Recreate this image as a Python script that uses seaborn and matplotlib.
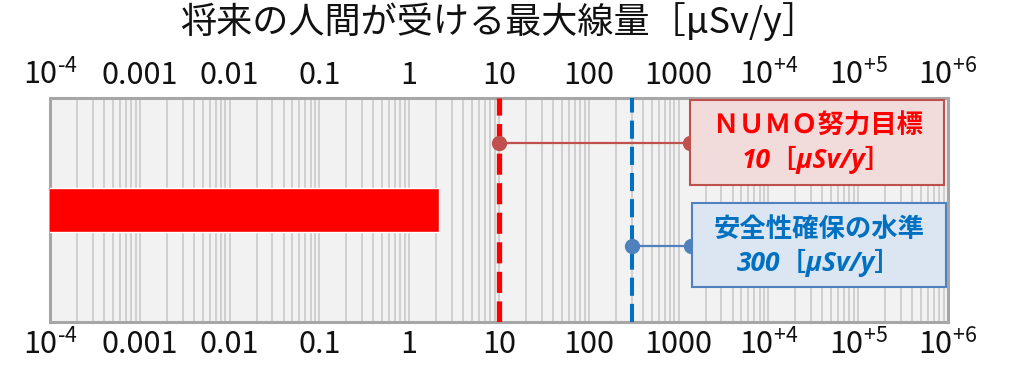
import numpy as np
import pandas as pd
import matplotlib
matplotlib.use("Agg")
import matplotlib.pyplot as plt
import matplotlib.ticker as mticker
from matplotlib.patches import Rectangle
import seaborn as sns

# ---- data ----
categories = [""]
dose_values = [2.15]                     # bar: max dose received by future humans
tick_values = [1e-4, 1e-3, 1e-2, 1e-1, 1, 10, 100, 1000, 1e4, 1e5, 1e6]
tick_labels = ["10$^{\\text{-}4}$", "0.001", "0.01", "0.1", "1", "10", "100", "1000",
               "10$^{+4}$", "10$^{+5}$", "10$^{+6}$"]
threshold_values = [10, 300]
threshold_titles = ["ＮＵＭＯ努力目標", "安全性確保の水準"]
threshold_units = ["10［μSv/y］", "300［μSv/y］"]
connector_end = [1340, 1370]
title = "将来の人間が受ける最大線量［μSv/y］"

sns.set_theme(style="white")
plt.rcParams["font.family"] = ["Noto Sans CJK JP", "DejaVu Sans"]
plt.rcParams["mathtext.fontset"] = "custom"
plt.rcParams["mathtext.rm"] = "Noto Sans CJK JP"
plt.rcParams["mathtext.it"] = "Noto Sans CJK JP"

fig = plt.figure(figsize=(10.22, 3.71), dpi=100)
ax = fig.add_axes([50/1022, 49/371, 898/1022, 224/371])
ax.set_facecolor("#f2f2f2")

df = pd.DataFrame({"cat": categories, "dose": dose_values})
ax.set_xscale("log")
sns.barplot(data=df, x="dose", y="cat", orient="h", color="#ff0000",
            saturation=1, width=0.2, ax=ax, zorder=3)
ax.set_xlim(1e-4, 1e6)
ax.set_ylim(0.5, -0.5)

# grid
ax.xaxis.set_major_locator(mticker.FixedLocator(tick_values))
ax.xaxis.set_major_formatter(mticker.FixedFormatter(tick_labels))
ax.xaxis.set_minor_locator(mticker.LogLocator(base=10, subs=np.arange(2, 10), numticks=100))
ax.xaxis.set_minor_formatter(mticker.NullFormatter())
ax.grid(True, which="both", axis="x", color="#c6c6c6", linewidth=1.1, zorder=0)
ax.set_axisbelow(True)
ax.tick_params(axis="x", which="both", length=0, top=True, labeltop=True,
               labelsize=22, pad=5, colors="#111111")
ax.set_yticks([])
ax.set_xlabel("")
ax.set_ylabel("")
for s in ax.spines.values():
    s.set_visible(True)
    s.set_color("#a6a6a6")
    s.set_linewidth(2.2)

trans = ax.get_xaxis_transform()
line_colors = ["#ff0000", "#0070c0"]
line_widths = [3.8, 2.9]
dash_styles = [(0, (4, 1.6)), (0, (4.5, 2))]
for v, c, lw, ds in zip(threshold_values, line_colors, line_widths, dash_styles):
    ax.axvline(v, color=c, linewidth=lw, linestyle=ds, zorder=4)

# connectors
marker_y = [0.80, 0.34]
marker_colors = ["#c0504d", "#4f81bd"]
for v, e, yy, mc in zip(threshold_values, connector_end, marker_y, marker_colors):
    ax.plot([v, e], [yy, yy], color=mc, linewidth=1.6, marker="o",
            markersize=10, transform=trans, zorder=6, clip_on=False)

# boxes
boxes = [(0.7127, 0.612, 0.283, 0.379, "#f2dcdb", "#c0504d", "#ff0000"),
         (0.715, 0.156, 0.283, 0.375, "#dce6f2", "#4f81bd", "#0070c0")]
for (bx, by, bw, bh, fc, ec, tc), t1, t2 in zip(boxes, threshold_titles, threshold_units):
    ax.add_patch(Rectangle((bx, by), bw, bh, transform=ax.transAxes,
                           facecolor=fc, edgecolor=ec, linewidth=1.5, zorder=7,
                           clip_on=False))
    cx = bx + bw / 2
    ax.text(cx, by + bh * 0.69, t1, transform=ax.transAxes, ha="center", va="center",
            fontsize=19, fontweight="bold", color=tc, zorder=8)
    ax.text(cx, by + bh * 0.29, t2, transform=ax.transAxes, ha="center", va="center",
            fontsize=19, fontweight="bold", fontstyle="italic", color=tc, zorder=8,
            family=["Open Sans", "Noto Sans CJK JP"])

fig.text(499/1022, 1 - 22/371, title, ha="center", va="center", fontsize=26,
         color="#111111")

fig.savefig("out.png", dpi=100)
